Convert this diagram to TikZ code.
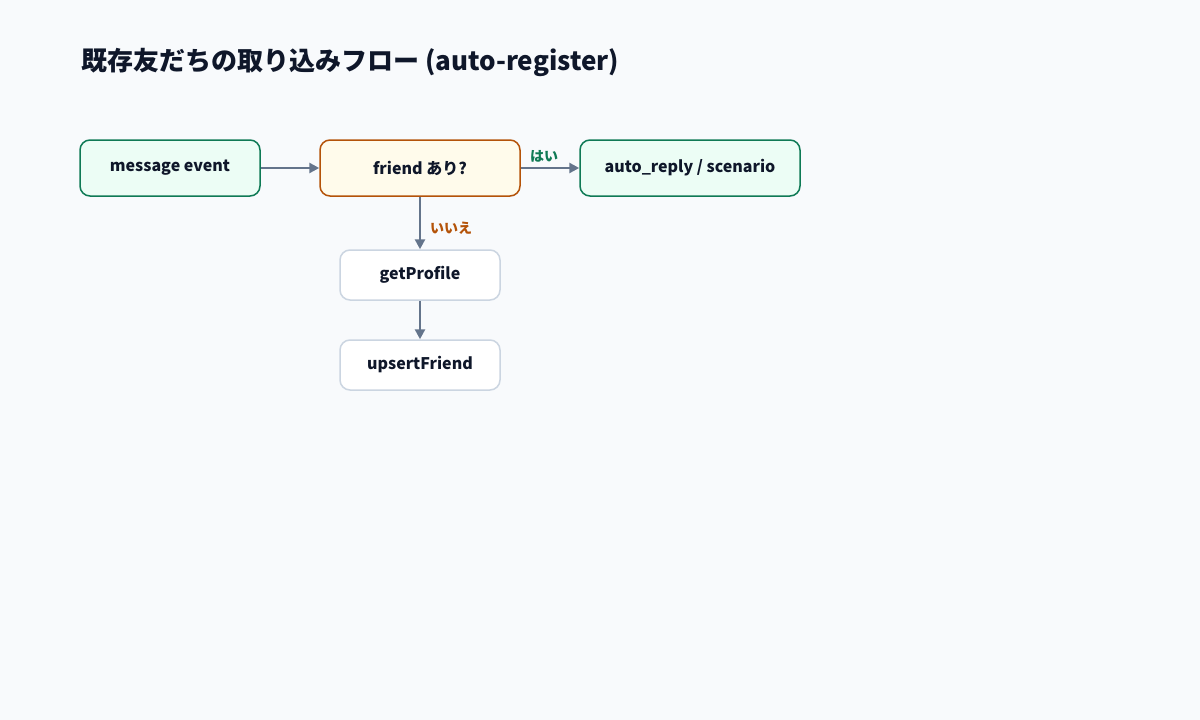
\documentclass[tikz,border=0pt]{standalone}
\usepackage{fontspec}
\setmainfont{Noto Sans CJK JP}
\usetikzlibrary{arrows.meta}
\definecolor{bg}{HTML}{F8FAFC}
\definecolor{ink}{HTML}{0F172A}
\definecolor{gline}{HTML}{0F7A55}
\definecolor{gfill}{HTML}{ECFDF5}
\definecolor{oline}{HTML}{B45309}
\definecolor{ofill}{HTML}{FFFBEB}
\definecolor{nline}{HTML}{CBD5E1}
\definecolor{arr}{HTML}{64748B}
\tikzset{
 box/.style={rounded corners=10pt,line width=1.5pt,align=center,text=ink,font=\bfseries\fontsize{16pt}{19pt}\selectfont,inner sep=0pt},
 gbox/.style={box,draw=gline,fill=gfill,minimum height=56pt},
 obox/.style={box,draw=oline,fill=ofill,minimum height=56pt},
 nbox/.style={box,draw=nline,fill=white,minimum height=50pt,minimum width=160pt},
 conn/.style={draw=arr,line width=2.5pt,-{Triangle[length=10pt,width=10pt]}},
 lbl/.style={font=\bfseries\fontsize{14pt}{16pt}\selectfont}
}
\begin{document}
\begin{tikzpicture}[x=1pt,y=-1pt]
\fill[bg] (0,0) rectangle (1200,720);
\useasboundingbox (0,0) rectangle (1200,720);
\node[anchor=west,text=ink,font=\bfseries\fontsize{26pt}{30pt}\selectfont] (title) at (78,62) {既存友だちの取り込みフロー (auto-register)};
\node[gbox,minimum width=180pt] (msg) at (170,168) {message event};
\node[obox,minimum width=200pt] (fr) at (420,168) {friend あり?};
\node[gbox,minimum width=220pt] (ar) at (690,168) {auto\_reply / scenario};
\node[nbox] (gp) at (420,275) {getProfile};
\node[nbox] (up) at (420,365) {upsertFriend};
\draw[conn] (msg) -- (fr);
\draw[conn] (fr) -- (ar);
\draw[conn] (fr) -- (gp);
\draw[conn] (gp) -- (up);
\node[lbl,text=gline] (yes) at (544,156) {はい};
\node[lbl,text=oline] (no) at (451,228) {いいえ};
\end{tikzpicture}
\end{document}
